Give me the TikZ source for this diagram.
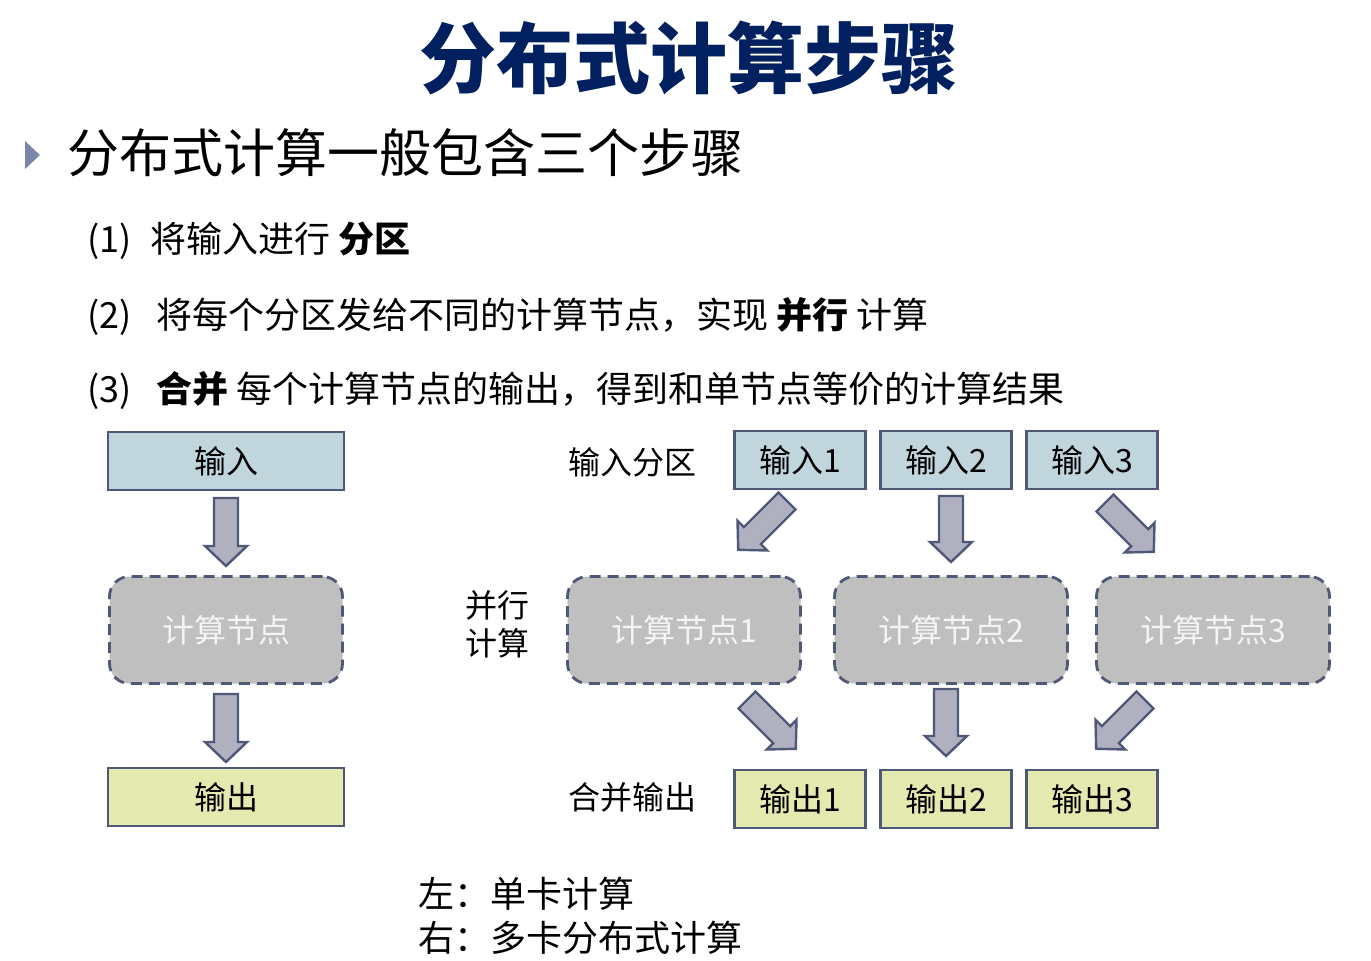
\documentclass[tikz,border=0pt]{standalone}
\usepackage{fontspec}
\setmainfont{Noto Sans CJK SC}
\usetikzlibrary{calc}
\definecolor{titleblue}{RGB}{0,32,96}
\definecolor{bordc}{RGB}{80,88,120}
\definecolor{inc}{RGB}{192,213,220}
\definecolor{outc}{RGB}{228,233,176}
\definecolor{compc}{RGB}{191,191,191}
\definecolor{arrc}{RGB}{176,176,192}
\definecolor{bulc}{RGB}{122,134,168}
\definecolor{comptext}{RGB}{244,244,244}
\newcommand{\blockarr}[3]{%
  \draw[barrow, shift={(#1)}, rotate=#2]
    (0pt,-12pt) -- ({#3pt-20pt},-12pt) -- ({#3pt-20pt},-21pt) -- (#3pt,0pt)
    -- ({#3pt-20pt},21pt) -- ({#3pt-20pt},12pt) -- (0pt,12pt) -- cycle;}
\begin{document}
\begin{tikzpicture}[x=1pt,y=-1pt,
  boxtext/.style={font=\fontsize{32}{38}\selectfont},
  inbox/.style={boxtext, draw=bordc, line width=2.8pt, fill=inc, inner sep=0pt},
  outbox/.style={boxtext, draw=bordc, line width=2.8pt, fill=outc, inner sep=0pt},
  compbox/.style={boxtext, draw=bordc, line width=2.8pt, dash pattern=on 11pt off 7pt,
    fill=compc, rounded corners=20pt, text=comptext, inner sep=0pt,
    minimum width=233, minimum height=107},
  barrow/.style={draw=bordc, fill=arrc, line width=2.4pt, line join=miter},
  label/.style={font=\fontsize{32}{38}\selectfont, inner sep=0pt},
  item/.style={font=\fontsize{36}{42}\selectfont, anchor=west, inner sep=0pt},
]
\useasboundingbox (0,0) rectangle (1371,961);

% title
\node[font=\fontsize{77}{80}\selectfont\bfseries, text=titleblue, inner sep=0pt] (title) at (689,58) {分布式计算步骤};

% bullet
\fill[bulc] (25,141) -- (40,155) -- (25,169) -- cycle;
\node[font=\fontsize{52}{60}\selectfont, anchor=west, inner sep=0pt] (sub) at (67,153) {分布式计算一般包含三个步骤};

\node[item] (i1) at (87,241) {(1)\hspace{19pt}将输入进行 \textbf{分区}};
\node[item] (i2) at (87,316) {(2)\hspace{25pt}将每个分区发给不同的计算节点，实现 \textbf{并行} 计算};
\node[item] (i3) at (87,390) {(3)\hspace{25pt}\textbf{合并} 每个计算节点的输出，得到和单节点等价的计算结果};

% left column
\node[inbox, minimum width=236, minimum height=58] (in) at (226,461) {输入};
\node[compbox] (cn) at (226,630) {计算节点};
\node[outbox, minimum width=236, minimum height=58] (out) at (226,797) {输出};
\coordinate (la1) at (226,498);
\coordinate (la2) at (226,694);
\blockarr{la1}{-90}{68}
\blockarr{la2}{-90}{68}

% right side labels
\node[label] (lin) at (632,462) {输入分区};
\node[label, align=center] (lpar) at (497,624) {并行\\计算};
\node[label] (lout) at (632,797) {合并输出};

% input boxes
\node[inbox, minimum width=131, minimum height=58] (in1) at (800,460) {输入1};
\node[inbox, minimum width=131, minimum height=58] (in2) at (946,460) {输入2};
\node[inbox, minimum width=131, minimum height=58] (in3) at (1092,460) {输入3};

% compute nodes
\node[compbox] (c1) at (684,630) {计算节点1};
\node[compbox] (c2) at (951,630) {计算节点2};
\node[compbox] (c3) at (1213,630) {计算节点3};

% output boxes
\node[outbox, minimum width=131, minimum height=58] (o1) at (800,799) {输出1};
\node[outbox, minimum width=131, minimum height=58] (o2) at (946,799) {输出2};
\node[outbox, minimum width=131, minimum height=58] (o3) at (1092,799) {输出3};

% arrows top
\coordinate (ta1) at (787,501);
\coordinate (ta2) at (951,496);
\coordinate (ta3) at (1105,503);
\blockarr{ta1}{-135}{69}
\blockarr{ta2}{-90}{66}
\blockarr{ta3}{-45}{69}

% arrows bottom
\coordinate (ba1) at (747,700);
\coordinate (ba2) at (946,689);
\coordinate (ba3) at (1145,700);
\blockarr{ba1}{-45}{69}
\blockarr{ba2}{-90}{67}
\blockarr{ba3}{-135}{69}

% footnote
\node[item] (f1) at (418,894) {左：单卡计算};
\node[item] (f2) at (418,938) {右：多卡分布式计算};
\end{tikzpicture}
\end{document}
